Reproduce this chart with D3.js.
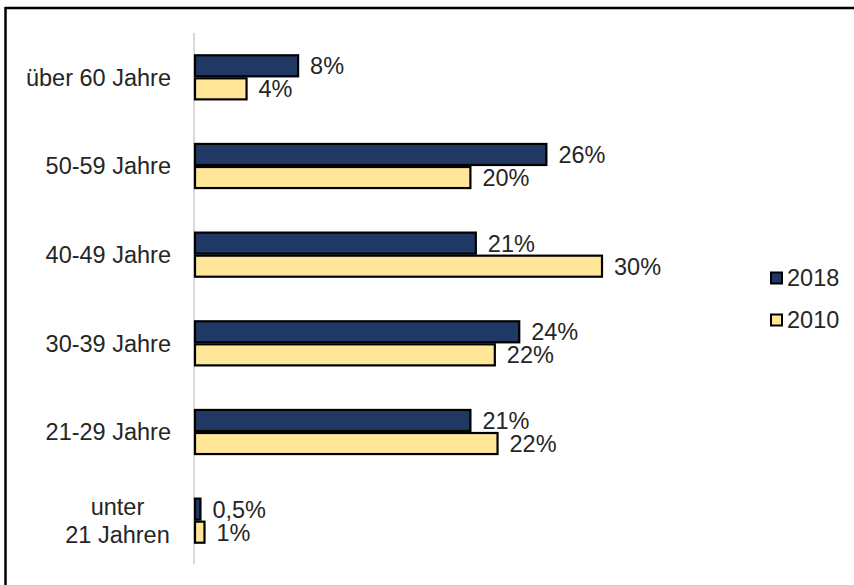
<!DOCTYPE html>
<html>
<head>
<meta charset="utf-8">
<script src="https://cdn.jsdelivr.net/npm/d3@7/dist/d3.min.js"></script>
<style>
  html, body { margin: 0; padding: 0; background: #fff; }
  svg { display: block; font-family: Arial, "Liberation Sans", sans-serif; }
</style>
</head>
<body>
<svg id="chart" width="854" height="585"></svg>
<script>
const categories = ["über 60 Jahre", "50-59 Jahre", "40-49 Jahre", "30-39 Jahre", "21-29 Jahre", "unter\n21 Jahren"];
const seriesNames = ["2018", "2010"];
const values2018 = [7.6, 25.9, 20.7, 23.9, 20.3, 0.4];
const values2010 = [3.8, 20.3, 30.0, 22.1, 22.3, 0.7];
const labels2018 = ["8%", "26%", "21%", "24%", "21%", "0,5%"];
const labels2010 = ["4%", "20%", "30%", "22%", "22%", "1%"];
const colors = ["#203864", "#ffe699"];

const svg = d3.select("#chart");
const W = 854, H = 585;
const FS = 23.5;
const TXT = "#262626";

// outer frame (top and left edges visible)
svg.append("line").attr("x1", 5).attr("x2", W).attr("y1", 8).attr("y2", 8)
  .attr("stroke", "#000").attr("stroke-width", 2.5);
svg.append("line").attr("x1", 5.5).attr("x2", 5.5).attr("y1", 7).attr("y2", H)
  .attr("stroke", "#000").attr("stroke-width", 2.5);

const x0 = 195;
const x = d3.scaleLinear().domain([0, 30]).range([x0, 602]);
const y = d3.scaleBand().domain(categories).range([33, 565]).paddingInner(0.48).paddingOuter(0.24);
const ySub = d3.scaleBand().domain(seriesNames).range([0, y.bandwidth()]).padding(0);

// category axis line
svg.append("line").attr("x1", x0 - 1).attr("x2", x0 - 1).attr("y1", 33).attr("y2", 564)
  .attr("stroke", "#d9d9d9").attr("stroke-width", 2);

const data = categories.map((c, i) => ({
  cat: c,
  bars: [
    { s: "2018", v: values2018[i], lab: labels2018[i] },
    { s: "2010", v: values2010[i], lab: labels2010[i] }
  ]
}));

const groups = svg.selectAll("g.cat").data(data).join("g")
  .attr("class", "cat")
  .attr("transform", d => `translate(0,${y(d.cat)})`);

groups.selectAll("rect").data(d => d.bars).join("rect")
  .attr("x", x0)
  .attr("y", d => ySub(d.s) + 1)
  .attr("width", d => x(d.v) - x0)
  .attr("height", ySub.bandwidth() - 2)
  .attr("fill", (d, i) => colors[i])
  .attr("stroke", "#000")
  .attr("stroke-width", 2.2);

groups.selectAll("text.val").data(d => d.bars).join("text")
  .attr("class", "val")
  .attr("x", d => x(d.v) + 12)
  .attr("y", d => ySub(d.s) + ySub.bandwidth() / 2)
  .attr("dy", "0.36em")
  .attr("font-size", FS)
  .attr("fill", TXT)
  .text(d => d.lab);

// category labels
groups.each(function (d) {
  const lines = d.cat.split("\n");
  const g = d3.select(this);
  const cy = y.bandwidth() / 2;
  const lh = 28;
  lines.forEach((ln, j) => {
    g.append("text")
      .attr("x", lines.length > 1 ? 117.5 : 171)
      .attr("y", cy + (j - (lines.length - 1) / 2) * lh)
      .attr("dy", "0.36em")
      .attr("text-anchor", lines.length > 1 ? "middle" : "end")
      .attr("font-size", FS)
      .attr("fill", TXT)
      .text(ln);
  });
});

// legend
const legend = svg.append("g").attr("transform", "translate(771,278)");
seriesNames.forEach((s, i) => {
  const lg = legend.append("g").attr("transform", `translate(0,${i * 42})`);
  lg.append("rect").attr("x", 0).attr("y", -5.5).attr("width", 11).attr("height", 11)
    .attr("fill", colors[i]).attr("stroke", "#000").attr("stroke-width", 2);
  lg.append("text").attr("x", 16).attr("y", 0).attr("dy", "0.36em")
    .attr("font-size", FS).attr("fill", TXT).text(s);
});
</script>
</body>
</html>
